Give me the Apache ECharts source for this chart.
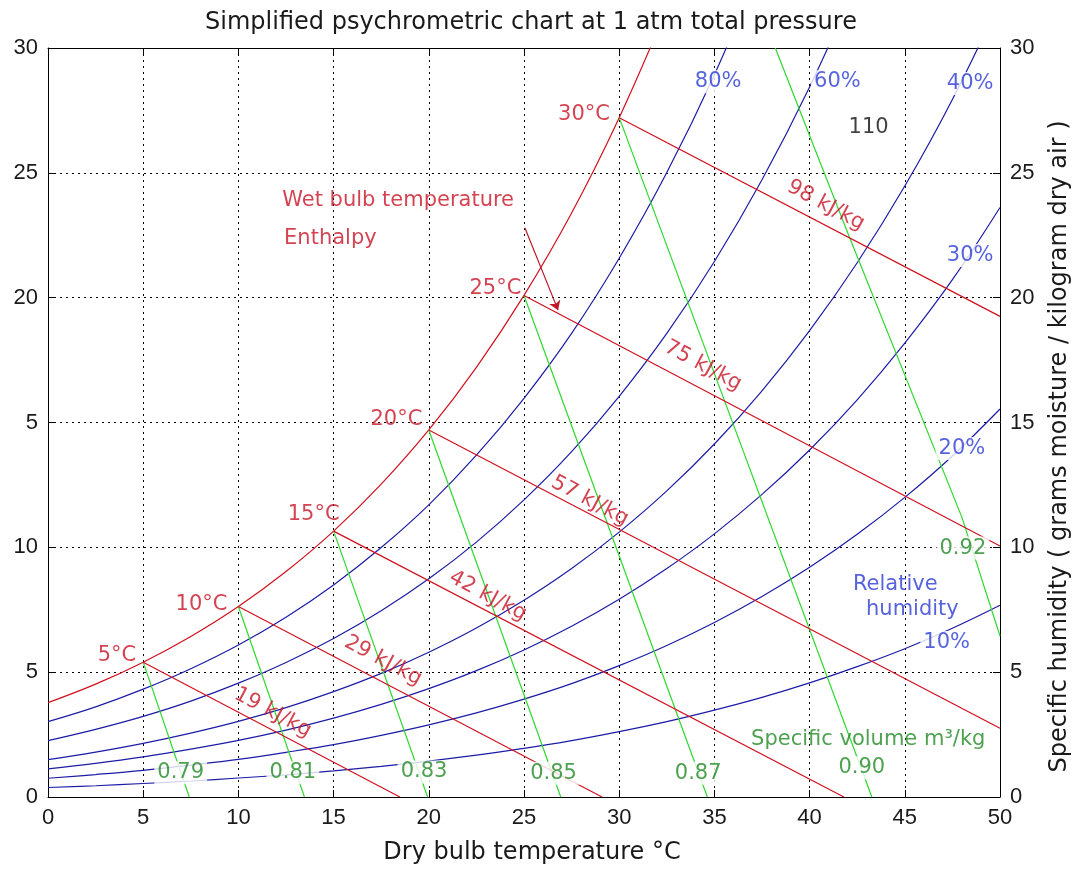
<!DOCTYPE html>
<html>
<head>
<meta charset="utf-8">
<script src="https://cdn.jsdelivr.net/npm/echarts@6/dist/echarts.min.js"></script>
<style>
html,body{margin:0;padding:0;background:#ffffff;}
#chart{width:1078px;height:869px;}
</style>
</head>
<body>
<div id="chart"></div>
<script>
// ---------- data ----------
const dryBulb = [0, 2.5, 5, 7.5, 10, 12.5, 15, 17.5, 20, 22.5, 25, 27.5, 30, 32.5, 35, 37.5, 40, 42.5, 45, 47.5, 50];

// specific humidity (g/kg) along each relative-humidity curve, at the dryBulb temperatures
const rh100 = [3.78, 4.52, 5.40, 6.43, 7.63, 9.03, 10.65, 12.53, 14.70, 17.21, 20.09, 23.39, 27.21, 31.58];
const rh80  = [3.02, 3.61, 4.32, 5.14, 6.09, 7.20, 8.49, 9.99, 11.70, 13.69, 15.97, 18.57, 21.58, 25.01, 28.93, 33.41];
const rh60  = [2.26, 2.71, 3.23, 3.84, 4.56, 5.39, 6.35, 7.46, 8.74, 10.21, 11.90, 13.83, 16.05, 18.57, 21.45, 24.72, 28.44, 32.66];
const rh40  = [1.50, 1.80, 2.15, 2.56, 3.03, 3.58, 4.22, 4.95, 5.80, 6.77, 7.88, 9.15, 10.61, 12.26, 14.14, 16.27, 18.68, 21.40, 24.47, 27.94, 31.88];
const rh30  = [1.13, 1.35, 1.61, 1.92, 2.27, 2.68, 3.16, 3.71, 4.34, 5.06, 5.89, 6.84, 7.92, 9.15, 10.54, 12.12, 13.90, 15.91, 18.18, 20.72, 23.61];
const rh20  = [0.75, 0.90, 1.07, 1.28, 1.51, 1.79, 2.10, 2.47, 2.89, 3.37, 3.92, 4.54, 5.26, 6.07, 6.99, 8.03, 9.20, 10.52, 12.00, 13.66, 15.54];
const rh10  = [0.38, 0.45, 0.54, 0.64, 0.76, 0.89, 1.05, 1.23, 1.44, 1.68, 1.95, 2.26, 2.62, 3.02, 3.48, 3.99, 4.57, 5.22, 5.94, 6.76, 7.68];

// constant-enthalpy (wet bulb) lines: start on saturation, end on the frame  [T, w]
const enthalpy19 = [[5, 5.40], [18.48, 0]];
const enthalpy29 = [[10, 7.63], [29.1, 0]];
const enthalpy42 = [[15, 10.65], [41.8, 0]];
const enthalpy57 = [[20, 14.70], [50, 2.75]];
const enthalpy75 = [[25, 20.09], [50, 10.05]];
const enthalpy98 = [[30, 27.21], [50, 19.25]];

// constant specific-volume lines  [T, w]
const volume079 = [[5, 5.40], [7.42, 0]];
const volume081 = [[10, 7.63], [13.47, 0]];
const volume083 = [[15, 10.65], [19.94, 0]];
const volume085 = [[20, 14.70], [26.93, 0]];
const volume087 = [[25, 20.09], [34.63, 0]];
const volume090 = [[30, 27.21], [43.27, 0]];
const volume092 = [[38.2, 30], [42.0, 22.6], [48.0, 11.2], [50, 6.45]];

// axis tick labels
const xTickLabels = ['0', '5', '10', '15', '20', '25', '30', '35', '40', '45', '50'];
const yLeftTickLabels = ['0', '5', '10', '5', '20', '25', '30'];
const yRightTickLabels = ['0', '5', '10', '15', '20', '25', '30'];

// annotations [T, w, text]
const wetBulbLabels = [[3.62, 5.66, '5°C'], [8.06, 7.72, '10°C'], [13.95, 11.3, '15°C'], [18.3, 15.1, '20°C'], [23.5, 20.35, '25°C'], [28.15, 27.35, '30°C']];
const enthalpyLabels = [[11.8, 3.38, '19 kJ/kg'], [17.6, 5.46, '29 kJ/kg'], [23.1, 8.05, '42 kJ/kg'], [28.46, 11.86, '57 kJ/kg'], [34.4, 17.27, '75 kJ/kg'], [40.85, 23.7, '98 kJ/kg']];
const rhLabels = [[35.2, 28.65, '80%'], [41.46, 28.65, '60%'], [48.43, 28.58, '40%'], [48.43, 21.69, '30%'], [48.0, 13.96, '20%'], [47.2, 6.19, '10%']];
const rhTitleLabels = [[44.5, 8.52, 'Relative'], [45.4, 7.5, 'humidity']];
const volumeLabels = [[6.97, 0.97, '0.79'], [12.86, 0.97, '0.81'], [19.75, 1.0, '0.83'], [26.55, 0.95, '0.85'], [34.15, 0.95, '0.87'], [42.74, 1.17, '0.90'], [48.05, 9.97, '0.92']];
const volumeTitleLabels = [[43.08, 2.32, 'Specific volume m³/kg']];
const legendNoteLabels = [[12.3, 23.87, 'Wet bulb temperature'], [12.4, 22.35, 'Enthalpy']];
const strayLabels = [[43.1, 26.8, '110']];
const arrowFrom = [25.05, 22.79];
const arrowTo = [26.79, 19.5];

// ---------- styles ----------
const RED = '#d0101e', BLUE = '#1c1ca6', GREEN = '#2fd82f';
const RED_TXT = '#c81426', BLUE_TXT = '#2c3cd4', GREEN_TXT = '#228a26';
const TXT_FONT = 'DejaVu Sans';

function curve(values, color) {
  return {
    type: 'line', data: values.map((w, i) => [dryBulb[i], w]),
    symbol: 'none', smooth: 0.4, clip: true, silent: true,
    lineStyle: { color: color, width: 1.2 }, z: 3
  };
}
function straight(points, color) {
  return {
    type: 'line', data: points, symbol: 'none', smooth: false, clip: true, silent: true,
    lineStyle: { color: color, width: 1.2 }, z: 3
  };
}
function textLayer(items, color, extra) {
  const label = Object.assign({
    show: true, position: 'inside', formatter: p => p.name,
    color: color, fontFamily: TXT_FONT, fontSize: 21
  }, extra || {});
  return {
    type: 'scatter', symbolSize: 1, silent: true, z: 10,
    itemStyle: { color: 'rgba(0,0,0,0)' },
    data: items.map(d => ({ value: [d[0], d[1]], name: d[2] })),
    label: label
  };
}

const axisLineStyle = { color: '#000', width: 1 };
const gridLine = { show: true, lineStyle: { color: '#000', width: 1, type: [2, 4] } };

const option = {
  animation: false,
  backgroundColor: '#ffffff',
  title: {
    text: 'Simplified psychrometric chart at 1 atm total pressure',
    left: 526, top: 6, textAlign: 'center',
    textStyle: { fontFamily: 'DejaVu Sans', fontSize: 24, fontWeight: 'normal', color: '#1a1a1a' }
  },
  grid: { left: 48, right: 78, top: 48, bottom: 72, containLabel: false, outerBoundsMode: 'none' },
  xAxis: [
    {
      type: 'value', position: 'bottom', min: 0, max: 50, interval: 5,
      axisLine: { show: true, onZero: false, lineStyle: axisLineStyle },
      axisTick: { show: true, inside: true, length: 7, lineStyle: axisLineStyle },
      axisLabel: { formatter: v => xTickLabels[Math.round(v / 5)], fontFamily: 'Liberation Sans', fontSize: 22, color: '#1a1a1a', margin: 10 },
      splitLine: gridLine,
      name: 'Dry bulb temperature °C', nameLocation: 'middle', nameGap: 44,
      nameTextStyle: { fontFamily: 'DejaVu Sans', fontSize: 24, color: '#1a1a1a', padding: [0, 0, 0, 16] }
    },
    {
      type: 'value', position: 'top', min: 0, max: 50, interval: 5,
      axisLine: { show: true, onZero: false, lineStyle: axisLineStyle },
      axisTick: { show: true, inside: true, length: 7, lineStyle: axisLineStyle },
      axisLabel: { show: false }, splitLine: { show: false }
    }
  ],
  yAxis: [
    {
      type: 'value', position: 'left', min: 0, max: 30, interval: 5,
      axisLine: { show: true, onZero: false, lineStyle: axisLineStyle },
      axisTick: { show: true, inside: true, length: 7, lineStyle: axisLineStyle },
      axisLabel: { formatter: v => yLeftTickLabels[Math.round(v / 5)], fontFamily: 'Liberation Sans', fontSize: 22, color: '#1a1a1a', margin: 10 },
      splitLine: gridLine
    },
    {
      type: 'value', position: 'right', min: 0, max: 30, interval: 5,
      axisLine: { show: true, onZero: false, lineStyle: axisLineStyle },
      axisTick: { show: true, inside: true, length: 7, lineStyle: axisLineStyle },
      axisLabel: { formatter: v => yRightTickLabels[Math.round(v / 5)], fontFamily: 'Liberation Sans', fontSize: 22, color: '#1a1a1a', margin: 10 },
      splitLine: { show: false },
      name: 'Specific humidity ( grams moisture / kilogram dry air )',
      nameLocation: 'middle', nameGap: 48, nameRotate: 90,
      nameTextStyle: { fontFamily: 'DejaVu Sans', fontSize: 24, color: '#1a1a1a', padding: [0, 48, 0, 0] }
    }
  ],
  series: [
    curve(rh10, BLUE), curve(rh20, BLUE), curve(rh30, BLUE),
    curve(rh40, BLUE), curve(rh60, BLUE), curve(rh80, BLUE),
    curve(rh100, RED),
    straight(volume079, GREEN), straight(volume081, GREEN), straight(volume083, GREEN),
    straight(volume085, GREEN), straight(volume087, GREEN), straight(volume090, GREEN),
    straight(volume092, GREEN),
    straight(enthalpy19, RED), straight(enthalpy29, RED), straight(enthalpy42, RED),
    straight(enthalpy57, RED), straight(enthalpy98, RED),
    Object.assign(straight(enthalpy75, RED), {
      markLine: {
        silent: true, symbol: ['none', 'arrow'], symbolSize: 9, animation: false,
        lineStyle: { color: '#c01828', width: 1.2, type: 'solid' },
        label: { show: false },
        data: [[{ coord: arrowFrom }, { coord: arrowTo }]]
      }
    }),
    textLayer(wetBulbLabels, RED_TXT),
    textLayer(enthalpyLabels, RED_TXT, { rotate: -28 }),
    textLayer(legendNoteLabels, RED_TXT, { align: 'left' }),
    textLayer(rhLabels, BLUE_TXT, { backgroundColor: '#ffffff', padding: [1, 3] }),
    textLayer(rhTitleLabels, BLUE_TXT),
    textLayer(volumeLabels, GREEN_TXT, { backgroundColor: '#ffffff', padding: [1, 3] }),
    textLayer(volumeTitleLabels, GREEN_TXT),
    textLayer(strayLabels, '#111111')
  ]
};

const chart = echarts.init(document.getElementById('chart'), null, { renderer: 'canvas' });
chart.setOption(option);
</script>
</body>
</html>
